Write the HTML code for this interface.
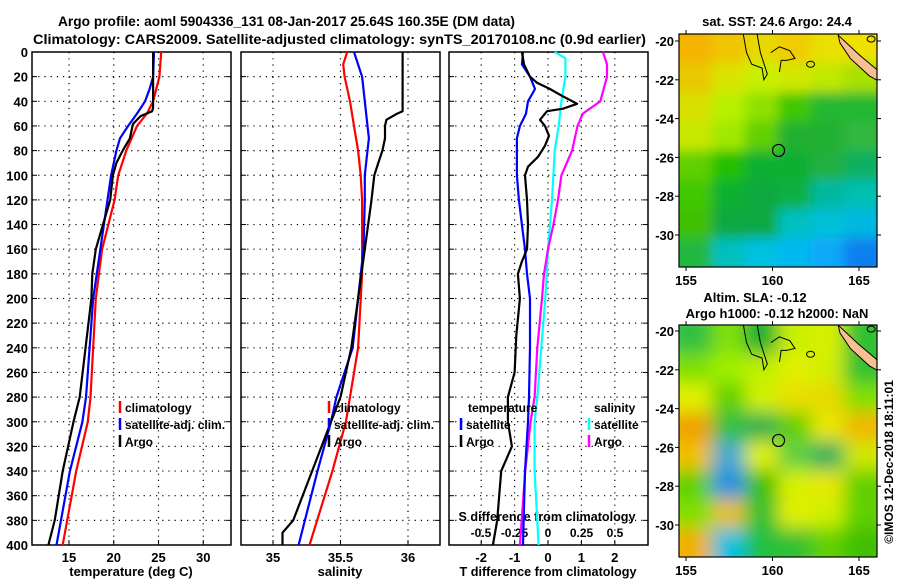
<!DOCTYPE html>
<html><head><meta charset="utf-8">
<style>
body{margin:0;background:#fff;}
svg text{font-family:"Liberation Sans",sans-serif;font-weight:bold;fill:#000;}
</style></head>
<body>
<svg id="chart" width="900" height="580" viewBox="0 0 900 580" xmlns="http://www.w3.org/2000/svg">
<rect width="900" height="580" fill="#fff"/>
<text x="58" y="26" font-size="14" textLength="457" lengthAdjust="spacingAndGlyphs">Argo profile: aoml 5904336_131 08-Jan-2017 25.64S 160.35E (DM data)</text>
<text x="33" y="44" font-size="14" textLength="613" lengthAdjust="spacingAndGlyphs">Climatology: CARS2009. Satellite-adjusted climatology: synTS_20170108.nc (0.9d earlier)</text>
<g id="g"></g>
<text x="0" y="0" font-size="12" font-weight="normal" text-anchor="middle" transform="translate(893,462) rotate(-90)">©IMOS 12-Dec-2018 18:11:01</text>
</svg>
<script>
// ---- data ----
const depthT_clim=[0,20,40,50,60,80,100,120,160,200,280,300,340,400];
const temp_clim=[25.3,25.1,24.4,23.7,22.6,21.4,20.5,20.1,18.7,18.0,17.4,17.1,15.8,14.3];
const depthT_sat=[0,20,30,40,50,60,70,80,100,120,200,280,300,340,400];
const temp_sat=[24.5,24.4,24.0,23.5,22.6,21.6,20.7,20.3,19.7,19.3,17.7,16.9,16.5,15.1,13.6];
const depthT_argo=[0,45,48,52,58,60,70,80,90,100,120,160,180,200,280,300,340,380,400];
const temp_argo=[24.4,24.4,24.3,23.0,22.2,22.1,21.8,21.0,20.3,19.9,19.6,18.0,17.6,17.5,16.2,15.5,14.3,13.4,12.7];

const depthS_clim=[0,10,20,40,60,80,100,120,180,240,280,300,340,400];
const sal_clim=[35.55,35.52,35.53,35.57,35.60,35.63,35.65,35.66,35.66,35.63,35.57,35.54,35.44,35.27];
const depthS_sat=[0,20,40,60,70,80,100,120,160,200,240,280,300,340,400];
const sal_sat=[35.60,35.66,35.68,35.70,35.71,35.70,35.68,35.68,35.67,35.63,35.59,35.47,35.43,35.33,35.19];
const depthS_argo=[0,48,50,55,60,70,80,90,100,120,160,200,240,280,300,340,380,390,400];
const sal_argo=[35.96,35.96,35.92,35.84,35.83,35.83,35.81,35.78,35.75,35.73,35.68,35.63,35.58,35.50,35.43,35.29,35.15,35.07,35.07];

const depthD_argo=[0,10,20,25,30,36,42,46,48,55,60,68,76,85,93,100,120,140,160,170,180,200,230,260,280,300,320,340,360,380,400];
const dT_argo=[-0.78,-0.72,-0.54,-0.33,0.06,0.45,0.87,0.45,-0.03,-0.24,-0.09,0.03,-0.09,-0.3,-0.6,-0.69,-0.63,-0.6,-0.63,-0.78,-0.9,-0.84,-0.95,-1.0,-1.2,-1.2,-1.08,-1.4,-1.46,-1.52,-1.65];
const depthD_sat=[0,10,20,30,40,50,60,70,100,120,140,160,180,200,240,280,300,340,400];
const dT_sat=[-0.75,-0.78,-0.54,-0.39,-0.6,-0.66,-0.84,-0.93,-0.93,-0.87,-0.78,-0.69,-0.63,-0.54,-0.54,-0.57,-0.6,-0.69,-0.75];
const depthDS_sat=[0,5,20,40,60,80,100,120,140,160,180,200,240,280,300,340,400];
const dS_sat=[0.05,0.13,0.13,0.10,0.08,0.05,0.04,0.03,0.015,0,-0.01,-0.02,-0.05,-0.08,-0.10,-0.10,-0.07];
const depthDS_argo=[0,10,20,40,50,60,80,100,120,140,160,180,200,240,280,300,340,400];
const dS_argo=[0.41,0.44,0.44,0.39,0.26,0.22,0.18,0.10,0.075,0.04,0,-0.03,-0.045,-0.08,-0.10,-0.13,-0.17,-0.21];

const depthTicks=[0,20,40,60,80,100,120,140,160,180,200,220,240,260,280,300,320,340,360,380,400];
const tempTicks=[15,20,25,30];
const salTicks=[35,35.5,36];
const dTTicks=[-2,-1,0,1,2];
const dSTicks=[-0.5,-0.25,0,0.25,0.5];
const lonTicks=[155,160,165];
const latTicks=[-20,-22,-24,-26,-28,-30];

// ---- axes ----
const TOP=52,BOT=545;
const yD=d=>TOP+d*(BOT-TOP)/400;
const xT=t=>69+(t-15)*8.95;
const xS=s=>273+(s-35)*135;
const xDT=v=>548+v*33.4;
const xDS=v=>548+v*134;
const panels=[{x0:32,x1:231,name:'temperature-panel'},{x0:241,x1:440,name:'salinity-panel'},{x0:449,x1:648,name:'difference-panel'}];
const NS='http://www.w3.org/2000/svg';
const G=document.getElementById('g');
function mk(tag,attrs,parent){const e=document.createElementNS(NS,tag);for(const k in attrs)e.setAttribute(k,attrs[k]);(parent||G).appendChild(e);return e;}
function txt(s,attrs,parent){const e=mk('text',attrs,parent);e.textContent=s;return e;}

panels.forEach((p,i)=>{
  const g=mk('g',{});
  
  
  depthTicks.forEach(d=>{
    if(d>0&&d<400){const l=mk('line',{x1:p.x0,x2:p.x1,y1:yD(d),y2:yD(d),stroke:'#000','stroke-dasharray':'1.2 5','stroke-width':1.2},g);
    }
    mk('line',{x1:p.x0,x2:p.x0+5,y1:yD(d),y2:yD(d),stroke:'#000'},g);
    mk('line',{x1:p.x1,x2:p.x1-5,y1:yD(d),y2:yD(d),stroke:'#000'},g);
  });
  const r=mk('rect',{x:p.x0,y:TOP,width:p.x1-p.x0,height:BOT-TOP,fill:'none',stroke:'#000','stroke-width':1.5},g);
  
});
depthTicks.forEach(d=>{const t=txt(String(d),{x:28,y:yD(d)+5,'font-size':13,'text-anchor':'end'});
});

function vgrid(ticks,fx,p,labels){
  ticks.forEach(v=>{const x=fx(v);
    const l=mk('line',{x1:x,x2:x,y1:TOP,y2:BOT,stroke:'#000','stroke-dasharray':'1.2 5','stroke-width':1.2});
    
    mk('line',{x1:x,x2:x,y1:BOT,y2:BOT-5,stroke:'#000'});
    if(labels){const t=txt(String(v),{x:x,y:562,'font-size':13,'text-anchor':'middle'});
      }
  });
}
vgrid(tempTicks,xT,panels[0],true);
vgrid(salTicks,xS,panels[1],true);
vgrid(dTTicks,xDT,panels[2],true);
dSTicks.forEach(v=>{const t=txt(String(v),{x:xDS(v),y:537,'font-size':12,'text-anchor':'middle'});
});
let t;
t=txt('temperature (deg C)',{x:131,y:576,'font-size':13,'text-anchor':'middle'});
t=txt('salinity',{x:340,y:576,'font-size':13,'text-anchor':'middle'});
t=txt('T difference from climatology',{x:548,y:576,'font-size':13,'text-anchor':'middle','textLength':177,'lengthAdjust':'spacingAndGlyphs'});
t=txt('S difference from climatology',{x:547,y:521,'font-size':13,'text-anchor':'middle','textLength':177,'lengthAdjust':'spacingAndGlyphs'});

function line(depths,vals,fx,color,name){
  const pts=depths.map((d,i)=>fx(vals[i]).toFixed(1)+','+yD(d).toFixed(1)).join(' ');
  const e=mk('polyline',{points:pts,fill:'none',stroke:color,'stroke-width':2.2,'stroke-linejoin':'round'});
  
  
}
line(depthT_clim,temp_clim,xT,'#ff0000','temp-climatology-line');
line(depthT_sat,temp_sat,xT,'#0000ff','temp-satellite-line');
line(depthT_argo,temp_argo,xT,'#000000','temp-argo-line');
line(depthS_clim,sal_clim,xS,'#ff0000','sal-climatology-line');
line(depthS_sat,sal_sat,xS,'#0000ff','sal-satellite-line');
line(depthS_argo,sal_argo,xS,'#000000','sal-argo-line');
line(depthDS_sat,dS_sat,xDS,'#00ffff','sdiff-satellite-line');
line(depthDS_argo,dS_argo,xDS,'#ff00ff','sdiff-argo-line');
line(depthD_sat,dT_sat,xDT,'#0000ff','tdiff-satellite-line');
line(depthD_argo,dT_argo,xDT,'#000000','tdiff-argo-line');

function legend(x,y,color,label){
  mk('line',{x1:x,x2:x,y1:y-11,y2:y+1,stroke:color,'stroke-width':2.5});
  const e=txt(label,{x:x+5,y:y,'font-size':12});
  
  
}
legend(120,412,'#ff0000','climatology');legend(120,429,'#0000ff','satellite-adj. clim.');legend(120,446,'#000','Argo');
legend(329,412,'#ff0000','climatology');legend(329,429,'#0000ff','satellite-adj. clim.');legend(329,446,'#000','Argo');
t=txt('temperature',{x:468,y:412,'font-size':12});
legend(461,429,'#0000ff','satellite');legend(461,446,'#000','Argo');
t=txt('salinity',{x:594,y:412,'font-size':12});
legend(589,429,'#00ffff','satellite');legend(589,446,'#ff00ff','Argo');

// ---- maps ----
const sstGrid=[
['#f4b400','#f0c400','#e8d800','#f0cc00','#e8e000','#f0e000'],
['#e8c800','#d8e400','#c8f000','#d0e800','#c0e800','#a8e000'],
['#d8e000','#b8f000','#90e000','#40c800','#20b830','#20b830'],
['#c8e800','#a0e800','#60d000','#20b030','#20b030','#30b840'],
['#60d000','#20c000','#10b030','#10b030','#20b040','#10b060'],
['#40c800','#10b030','#10a840','#10b040','#00b8a0','#00c0b0'],
['#40c000','#10a840','#10a840','#00c0c0','#00c0d8','#00b8e0'],
['#20b840','#00c0c0','#00c0e0','#00b8f0','#10a8f8','#1080f0']];
const slaGrid=[
['#30c040','#80e000','#10b030','#c8f000','#d8f000','#30c030'],
['#80e000','#a0f000','#c0f000','#e0f000','#d0f000','#30c030'],
['#e0f000','#60d000','#d0f000','#e8e000','#e8d800','#80e000'],
['#f0a000','#30c040','#20b050','#60d000','#e8e800','#f0b800'],
['#f0c000','#40a8d0','#e0f000','#60d040','#20b060','#d0e800'],
['#60d000','#2090e0','#40c000','#d8f000','#e8e800','#60d000'],
['#80e000','#e8c000','#30c030','#e0f000','#d0f000','#60d000'],
['#f0b000','#00c0e0','#20c040','#30c030','#60d000','#40c000']];

const defs=mk('defs',{});
const f1=mk('filter',{id:'b1',x:'-0.1',y:'-0.1',width:'1.2',height:'1.2'},defs);mk('feGaussianBlur',{stdDeviation:6},f1);
const f2=mk('filter',{id:'b2',x:'-0.1',y:'-0.1',width:'1.2',height:'1.2'},defs);mk('feGaussianBlur',{stdDeviation:9},f2);

function map(x0,y0,w,h,grid,blur,latMinusY,name){
  const cp=mk('clipPath',{id:'c'+name},defs);mk('rect',{x:x0,y:y0,width:w,height:h},cp);
  const g=mk('g',{'clip-path':'url(#c'+name+')'});
  
  
  const gg=mk('g',{filter:'url(#'+blur+')'},g);
  const cw=w/grid[0].length,ch=h/grid.length;
  grid.forEach((row,r)=>row.forEach((c,ci)=>mk('rect',{x:x0+ci*cw-(ci==0?15:0),y:y0+r*ch-(r==0?15:0),width:cw+1+(ci==0||ci==row.length-1?15:0),height:ch+1+(r==0||r==grid.length-1?15:0),fill:c},gg)));
  const lon=v=>686+(v-155)*17.3, lat=v=>latMinusY+(-20-v)*19.4;
  mk('path',{d:`M${lon(158.3)},${lat(-19.6)} L${lon(158.5)},${lat(-20.6)} L${lon(158.8)},${lat(-21.2)} L${lon(159.4)},${lat(-21.4)} L${lon(159.5)},${lat(-22)} L${lon(159.7)},${lat(-21.7)} L${lon(159.3)},${lat(-20.6)} L${lon(159.1)},${lat(-19.6)}`,fill:'none',stroke:'#000','stroke-width':1},g);
  mk('path',{d:`M${lon(159.9)},${lat(-20.6)} L${lon(160.4)},${lat(-20.3)} L${lon(161.0)},${lat(-20.5)} L${lon(161.3)},${lat(-20.9)} L${lon(160.8)},${lat(-21.0)} L${lon(160.5)},${lat(-21.0)} L${lon(160.4)},${lat(-21.6)}`,fill:'none',stroke:'#000','stroke-width':1},g);
  mk('ellipse',{cx:lon(162.2),cy:lat(-21.2),rx:4,ry:3,fill:'none',stroke:'#000'},g);
  mk('ellipse',{cx:lon(165.7),cy:lat(-19.9),rx:4,ry:3,fill:'none',stroke:'#000'},g);
  mk('path',{d:`M${lon(163.8)},${lat(-19.7)} L${lon(165)},${lat(-20.7)} L${lon(166.2)},${lat(-21.6)} L${lon(166.2)},${lat(-22.1)} L${lon(165.6)},${lat(-21.8)} L${lon(164.5)},${lat(-20.9)} L${lon(163.9)},${lat(-20.1)} Z`,fill:'#f8c090',stroke:'#000','stroke-width':1},g);
  const c=mk('circle',{cx:lon(160.35),cy:lat(-25.64),r:6,fill:'none',stroke:'#000','stroke-width':1.2});
  
  mk('rect',{x:x0,y:y0,width:w,height:h,fill:'none',stroke:'#000','stroke-width':1.2});
  lonTicks.forEach(v=>{mk('line',{x1:lon(v),x2:lon(v),y1:y0,y2:y0-4,stroke:'#000'});mk('line',{x1:lon(v),x2:lon(v),y1:y0+h,y2:y0+h+4,stroke:'#000'});
    const e=txt(String(v),{x:lon(v),y:y0+h+18,'font-size':13,'text-anchor':'middle'});
    });
  latTicks.forEach(v=>{mk('line',{x1:x0,x2:x0-4,y1:lat(v),y2:lat(v),stroke:'#000'});mk('line',{x1:x0+w,x2:x0+w+4,y1:lat(v),y2:lat(v),stroke:'#000'});
    const e=txt(String(v),{x:x0-5,y:lat(v)+5,'font-size':13,'text-anchor':'end'});
    });
}
map(679,34,198,233,sstGrid,'b1',41,'sst-map');
map(679,325,198,232,slaGrid,'b2',331,'sla-map');
t=txt('sat. SST: 24.6 Argo: 24.4',{x:777,y:26,'font-size':13,'text-anchor':'middle'});
t=txt('Altim. SLA: -0.12',{x:755,y:302,'font-size':13,'text-anchor':'middle'});
t=txt('Argo h1000: -0.12 h2000: NaN',{x:777,y:318,'font-size':13,'text-anchor':'middle'});
</script>
</body></html>
